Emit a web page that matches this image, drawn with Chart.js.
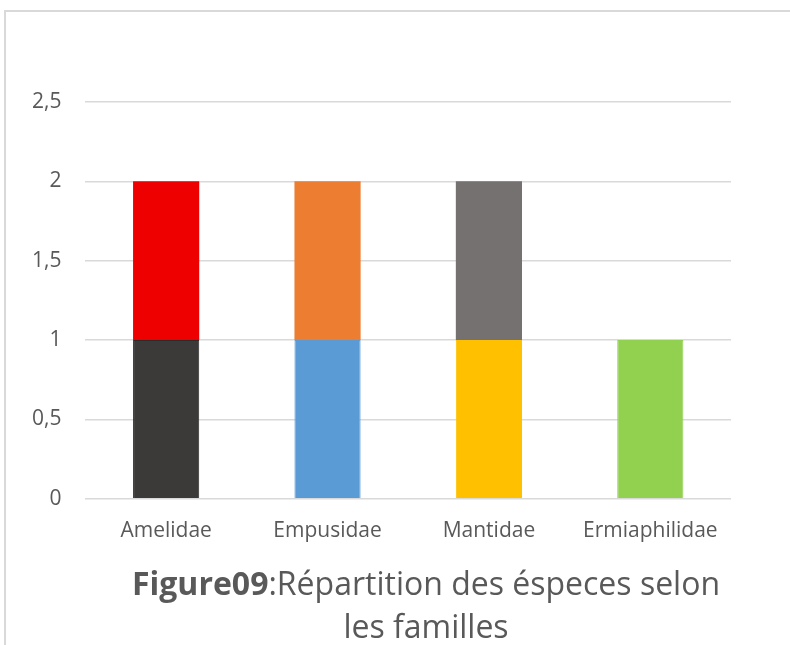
<!DOCTYPE html>
<html>
<head>
<meta charset="utf-8">
<script src="https://cdn.jsdelivr.net/npm/chart.js@4"></script>
<style>
  html, body { margin: 0; padding: 0; background: #fff; }
  #page { position: relative; width: 790px; height: 645px; overflow: hidden; font-family: "Open Sans", sans-serif; }
  #frame { position: absolute; left: 4px; top: 10px; width: 900px; height: 700px; border-left: 2px solid #d9d9d9; border-top: 2px solid #d9d9d9; }
  #box { position: absolute; left: 0; top: 0; width: 790px; height: 564px; }
  #caption { position: absolute; left: 76px; width: 700px; top: 561px; text-align: center; color: #595959; font-size: 32px; line-height: 43px; white-space: nowrap; }
  #caption b { font-weight: 700; }
</style>
</head>
<body>
<div id="page">
  <div id="frame"></div>
  <div id="box"><canvas id="famCanvas"></canvas></div>
  <div id="caption"><b>Figure09</b>:Répartition des éspeces selon<br>les familles</div>
</div>
<script>
// data
var categories = ["Amelidae", "Empusidae", "Mantidae", "Ermiaphilidae"];
var lowerValues = [1, 1, 1, 1];
var upperValues = [1, 1, 1, null];
var lowerColors = ["#3b3a38", "#5b9bd5", "#ffc000", "#92d050"];
var upperColors = ["#ee0000", "#ed7d31", "#767171", "#92d050"];
var lowerBorders = ["#2c2b2a", "#5b9bd5", "#ffc000", "#92d050"];
var yMin = 0, yMax = 2.5, yStep = 0.5;

var canvas1 = document.getElementById("famCanvas");

var myChart = new Chart(canvas1, {
    type: 'bar',
    data: {
        labels: categories,
        datasets: [{
            label: 'bas',
            data: lowerValues,
            backgroundColor: lowerColors,
            borderColor: lowerBorders,
            borderWidth: 1
        }, {
            label: 'haut',
            data: upperValues,
            backgroundColor: upperColors,
            borderWidth: 0
        }]
    },
    options: {
        responsive: true,
        maintainAspectRatio: false,
        animation: false,
        layout: {
            padding: { top: 102, left: 8, right: 59, bottom: 0 }
        },
        plugins: {
            legend: { display: false },
            title: { display: false },
            tooltip: { enabled: false }
        },
        datasets: {
            bar: { categoryPercentage: 1, barPercentage: 0.41 }
        },
        scales: {
            x: {
                stacked: true,
                grid: { display: false, drawTicks: false },
                border: { display: false },
                ticks: {
                    color: "#595959",
                    padding: 20,
                    font: { family: "Open Sans", size: 21 }
                }
            },
            y: {
                stacked: true,
                min: yMin,
                max: yMax,
                grid: { color: "#d9d9d9", lineWidth: 1.5, drawTicks: false },
                border: { display: false },
                ticks: {
                    stepSize: yStep,
                    color: "#595959",
                    padding: 24,
                    font: { family: "Open Sans", size: 21 },
                    // Excel style: 2,5 but plain 2
                    callback: function (v) { return String(v).replace('.', ','); }
                }
            }
        }
    }
});
</script>
</body>
</html>
